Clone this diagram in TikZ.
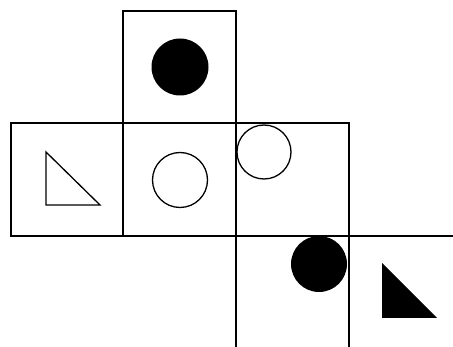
\documentclass[tikz,border=0pt]{standalone}
\begin{document}
\begin{tikzpicture}[x=1pt,y=-1pt,
  edge/.style={draw=black,line width=1.3pt},
  ring/.style={draw=black,line width=1.3pt,fill=white},
  dot/.style={fill=black}]
\useasboundingbox (0,0) rectangle (453,347);
\clip (0,0) rectangle (453,347);
% squares
\draw[edge] (123,11) rectangle (236,123);
\draw[edge] (11,123) rectangle (123,236);
\draw[edge] (123,123) rectangle (236,236);
\draw[edge] (236,123) rectangle (349,236);
\draw[edge] (236,236) -- (236,350);
\draw[edge] (349,236) -- (349,350);
\draw[edge] (349,236) -- (456,236);
% shapes
\fill[dot] (180,67) circle (28.5);
\draw[ring] (180,180) circle (27.5);
\draw[ring] (264,152) circle (27);
\fill[dot] (319,264) circle (28);
\draw[edge,line join=miter] (46,152) -- (46,205) -- (100,205) -- cycle;
\fill[dot] (382,263) -- (382,318) -- (437,318) -- cycle;
\end{tikzpicture}
\end{document}
